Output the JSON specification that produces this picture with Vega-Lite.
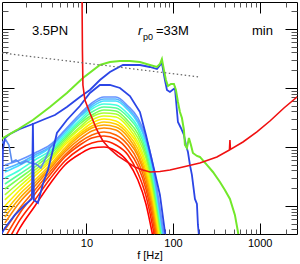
{
"$schema":"https://vega.github.io/schema/vega-lite/v6.json",
"width":295,"height":232,
"autosize":{"type":"none"},
"padding":{"left":2,"top":2,"right":3,"bottom":30},
"config":{"view":{"stroke":"#000","strokeWidth":1},"font":"Liberation Sans"},
"datasets":{
"rainbow":[
{"k":0,"f":1.145,"h":0.132},{"k":0,"f":1.707,"h":0.424},{"k":0,"f":2.543,"h":1.001},{"k":0,"f":3.789,"h":2.36},{"k":0,"f":5.645,"h":4.96},{"k":0,"f":8.41,"h":7.61},{"k":0,"f":11.57,"h":9.63},{"k":0,"f":15.93,"h":10.01},{"k":0,"f":21.9,"h":8.56},{"k":0,"f":30.15,"h":5.58},{"k":0,"f":39.3,"h":2.76},{"k":0,"f":48.7,"h":1.083},{"k":0,"f":57.1,"h":0.363},{"k":0,"f":66.9,"h":0.1},{"k":0,"f":78.5,"h":0.0255},
{"k":1,"f":1.145,"h":0.2026},{"k":1,"f":1.707,"h":0.58},{"k":1,"f":2.543,"h":1.266},{"k":1,"f":3.789,"h":2.87},{"k":1,"f":5.645,"h":5.8},{"k":1,"f":8.41,"h":9.26},{"k":1,"f":11.57,"h":11.7},{"k":1,"f":15.93,"h":12.65},{"k":1,"f":21.9,"h":10.82},{"k":1,"f":30.15,"h":7.33},{"k":1,"f":39.3,"h":3.63},{"k":1,"f":48.7,"h":1.481},{"k":1,"f":57.1,"h":0.516},{"k":1,"f":66.9,"h":0.137},{"k":1,"f":78.5,"h":0.035},
{"k":2,"f":1.145,"h":0.287},{"k":2,"f":1.707,"h":0.762},{"k":2,"f":2.543,"h":1.6},{"k":2,"f":3.789,"h":3.36},{"k":2,"f":5.645,"h":6.78},{"k":2,"f":8.41,"h":10.82},{"k":2,"f":11.57,"h":14.21},{"k":2,"f":15.93,"h":15.37},{"k":2,"f":21.9,"h":13.67},{"k":2,"f":30.15,"h":8.9},{"k":2,"f":39.3,"h":4.77},{"k":2,"f":48.7,"h":1.94},{"k":2,"f":57.1,"h":0.678},{"k":2,"f":66.9,"h":0.18},{"k":2,"f":78.5,"h":0.044},
{"k":3,"f":1.145,"h":0.393},{"k":3,"f":1.707,"h":0.926},{"k":3,"f":2.543,"h":1.87},{"k":3,"f":3.789,"h":3.77},{"k":3,"f":5.645,"h":7.33},{"k":3,"f":8.41,"h":12.16},{"k":3,"f":11.57,"h":15.98},{"k":3,"f":15.93,"h":17.97},{"k":3,"f":21.9,"h":15.98},{"k":3,"f":30.15,"h":10.82},{"k":3,"f":39.3,"h":5.8},{"k":3,"f":48.7,"h":2.36},{"k":3,"f":57.1,"h":0.857},{"k":3,"f":66.9,"h":0.2275},{"k":3,"f":78.5,"h":0.0536},
{"k":4,"f":1.145,"h":0.516},{"k":4,"f":1.707,"h":1.171},{"k":4,"f":2.543,"h":2.18},{"k":4,"f":3.789,"h":4.24},{"k":4,"f":5.645,"h":8.23},{"k":4,"f":8.41,"h":13.67},{"k":4,"f":11.57,"h":18.69},{"k":4,"f":15.93,"h":21},{"k":4,"f":21.9,"h":19.43},{"k":4,"f":30.15,"h":12.65},{"k":4,"f":39.3,"h":7.05},{"k":4,"f":48.7,"h":2.87},{"k":4,"f":57.1,"h":1.041},{"k":4,"f":66.9,"h":0.287},{"k":4,"f":78.5,"h":0.0677},
{"k":5,"f":1.145,"h":0.652},{"k":5,"f":1.707,"h":1.37},{"k":5,"f":2.543,"h":2.455},{"k":5,"f":3.789,"h":4.59},{"k":5,"f":5.645,"h":8.9},{"k":5,"f":8.41,"h":15.37},{"k":5,"f":11.57,"h":21},{"k":5,"f":15.93,"h":23.61},{"k":5,"f":21.9,"h":21.84},{"k":5,"f":30.15,"h":14.78},{"k":5,"f":39.3,"h":7.92},{"k":5,"f":48.7,"h":3.36},{"k":5,"f":57.1,"h":1.266},{"k":5,"f":66.9,"h":0.336},{"k":5,"f":78.5,"h":0.079},
{"k":6,"f":1.145,"h":0.793},{"k":6,"f":1.707,"h":1.6},{"k":6,"f":2.543,"h":2.76},{"k":6,"f":3.789,"h":4.96},{"k":6,"f":5.645,"h":9.63},{"k":6,"f":8.41,"h":16.62},{"k":6,"f":11.57,"h":22.71},{"k":6,"f":15.93,"h":26.54},{"k":6,"f":21.9,"h":24.54},{"k":6,"f":30.15,"h":16.62},{"k":6,"f":39.3,"h":9.26},{"k":6,"f":48.7,"h":3.92},{"k":6,"f":57.1,"h":1.481},{"k":6,"f":66.9,"h":0.393},{"k":6,"f":78.5,"h":0.089},
{"k":7,"f":1.145,"h":1.001},{"k":7,"f":1.707,"h":1.87},{"k":7,"f":2.543,"h":3.23},{"k":7,"f":3.789,"h":5.58},{"k":7,"f":5.645,"h":10.82},{"k":7,"f":8.41,"h":17.97},{"k":7,"f":11.57,"h":25.52},{"k":7,"f":15.93,"h":29.83},{"k":7,"f":21.9,"h":27.59},{"k":7,"f":30.15,"h":18.69},{"k":7,"f":39.3,"h":10.82},{"k":7,"f":48.7,"h":4.59},{"k":7,"f":57.1,"h":1.73},{"k":7,"f":66.9,"h":0.459},{"k":7,"f":78.5,"h":0.104},
{"k":8,"f":1.145,"h":1.266},{"k":8,"f":1.707,"h":2.18},{"k":8,"f":2.543,"h":3.63},{"k":8,"f":3.789,"h":6.03},{"k":8,"f":5.645,"h":11.7},{"k":8,"f":8.41,"h":20.2},{"k":8,"f":11.57,"h":28.69},{"k":8,"f":15.93,"h":33.53},{"k":8,"f":21.9,"h":32.25},{"k":8,"f":30.15,"h":21.84},{"k":8,"f":39.3,"h":12.16},{"k":8,"f":48.7,"h":5.36},{"k":8,"f":57.1,"h":2.1},{"k":8,"f":66.9,"h":0.536},{"k":8,"f":78.5,"h":0.122},
{"k":9,"f":1.145,"h":1.54},{"k":9,"f":1.707,"h":2.55},{"k":9,"f":2.543,"h":4.08},{"k":9,"f":3.789,"h":6.52},{"k":9,"f":5.645,"h":12.65},{"k":9,"f":8.41,"h":21.84},{"k":9,"f":11.57,"h":32.25},{"k":9,"f":15.93,"h":37.7},{"k":9,"f":21.9,"h":36.25},{"k":9,"f":30.15,"h":24.54},{"k":9,"f":39.3,"h":14.21},{"k":9,"f":48.7,"h":6.52},{"k":9,"f":57.1,"h":2.455},{"k":9,"f":66.9,"h":0.652},{"k":9,"f":78.5,"h":0.142},
{"k":10,"f":1.145,"h":1.94},{"k":10,"f":1.707,"h":2.99},{"k":10,"f":2.543,"h":4.59},{"k":10,"f":3.789,"h":7.33},{"k":10,"f":5.645,"h":13.67},{"k":10,"f":8.41,"h":24.54},{"k":10,"f":11.57,"h":34.87},{"k":10,"f":15.93,"h":42.38},{"k":10,"f":21.9,"h":40.76},{"k":10,"f":30.15,"h":27.59},{"k":10,"f":39.3,"h":16.62},{"k":10,"f":48.7,"h":7.61},{"k":10,"f":57.1,"h":2.87},{"k":10,"f":66.9,"h":0.762},{"k":10,"f":78.5,"h":0.1665},
{"k":11,"f":1.145,"h":2.36},{"k":11,"f":1.707,"h":3.49},{"k":11,"f":2.543,"h":5.16},{"k":11,"f":3.789,"h":7.92},{"k":11,"f":5.645,"h":14.78},{"k":11,"f":8.41,"h":26.54},{"k":11,"f":11.57,"h":39.2},{"k":11,"f":15.93,"h":47.64},{"k":11,"f":21.9,"h":45.82},{"k":11,"f":30.15,"h":32.25},{"k":11,"f":39.3,"h":19.43},{"k":11,"f":48.7,"h":8.9},{"k":11,"f":57.1,"h":3.49},{"k":11,"f":66.9,"h":0.891},{"k":11,"f":78.5,"h":0.195},
{"k":12,"f":1.145,"h":2.99},{"k":12,"f":1.707,"h":4.08},{"k":12,"f":2.543,"h":6.03},{"k":12,"f":3.789,"h":8.56},{"k":12,"f":5.645,"h":15.98},{"k":12,"f":8.41,"h":28.69},{"k":12,"f":11.57,"h":44.06},{"k":12,"f":15.93,"h":53.55},{"k":12,"f":21.9,"h":51.51},{"k":12,"f":30.15,"h":36.25},{"k":12,"f":39.3,"h":21.84},{"k":12,"f":48.7,"h":10.41},{"k":12,"f":57.1,"h":4.08},{"k":12,"f":66.9,"h":1.041},{"k":12,"f":78.5,"h":0.2275},
{"k":13,"f":1.145,"h":3.77},{"k":13,"f":1.707,"h":4.96},{"k":13,"f":2.543,"h":6.78},{"k":13,"f":3.789,"h":9.63},{"k":13,"f":5.645,"h":17.28},{"k":13,"f":8.41,"h":32.25},{"k":13,"f":11.57,"h":47.64},{"k":13,"f":15.93,"h":60.2},{"k":13,"f":21.9,"h":60.2},{"k":13,"f":30.15,"h":42.38},{"k":13,"f":39.3,"h":25.52},{"k":13,"f":48.7,"h":12.16},{"k":13,"f":57.1,"h":4.77},{"k":13,"f":66.9,"h":1.218},{"k":13,"f":78.5,"h":0.266},
{"k":14,"f":1.145,"h":4.24},{"k":14,"f":1.707,"h":5.36},{"k":14,"f":2.543,"h":7.33},{"k":14,"f":3.789,"h":10.01},{"k":14,"f":5.645,"h":18.69},{"k":14,"f":8.41,"h":33.53},{"k":14,"f":11.57,"h":51.51},{"k":14,"f":15.93,"h":65.07},{"k":14,"f":21.9,"h":65.07},{"k":14,"f":30.15,"h":45.82},{"k":14,"f":39.3,"h":27.59},{"k":14,"f":48.7,"h":13.15},{"k":14,"f":57.1,"h":5.36},{"k":14,"f":66.9,"h":1.37},{"k":14,"f":78.5,"h":0.287},
{"k":15,"f":1.145,"h":4.96},{"k":15,"f":1.707,"h":6.03},{"k":15,"f":2.543,"h":7.92},{"k":15,"f":3.789,"h":10.82},{"k":15,"f":5.645,"h":19.43},{"k":15,"f":8.41,"h":36.25},{"k":15,"f":11.57,"h":55.68},{"k":15,"f":15.93,"h":70.36},{"k":15,"f":21.9,"h":70.36},{"k":15,"f":30.15,"h":49.54},{"k":15,"f":39.3,"h":31.02},{"k":15,"f":48.7,"h":14.78},{"k":15,"f":57.1,"h":6.03},{"k":15,"f":66.9,"h":1.54},{"k":15,"f":78.5,"h":0.323}
],
"lb":[
{"f":0.951,"h":15.98},{"f":1.086,"h":11.7},{"f":1.176,"h":13.15},{"f":1.274,"h":10.82},{"f":1.38,"h":5.58},{"f":1.535,"h":6.03},{"f":1.752,"h":5.16},{"f":2.001,"h":5.8},{"f":2.286,"h":5.36},{"f":2.611,"h":5.16},{"f":2.983,"h":4.41},{"f":3.318,"h":6.03},{"f":3.79,"h":9.63},{"f":4.444,"h":13.15}
],
"b2":[
{"f":0.951,"h":0.266},{"f":1.145,"h":0.424},{"f":1.494,"h":0.705},{"f":1.949,"h":1.041},{"f":2.348,"h":1.317},{"f":2.41,"h":25.52},{"f":2.476,"h":1.266},{"f":2.754,"h":1.126},{"f":3.145,"h":2.36},{"f":3.593,"h":4.08},{"f":4.104,"h":8.9},{"f":4.564,"h":17.28},{"f":5.95,"h":28.69},{"f":8.41,"h":49.54},{"f":10.97,"h":82.25},{"f":14.32,"h":112.4},{"f":18.68,"h":112.4},{"f":24.4,"h":100},{"f":31.8,"h":73.16},{"f":41.5,"h":39.2},{"f":48.7,"h":15.98},{"f":54.1,"h":8.23},{"f":61.8,"h":3.63},{"f":70.6,"h":1.54},{"f":80.6,"h":0.363},{"f":85.05,"h":0.219}
],
"b1":[
{"f":1.03,"h":0.266},{"f":1.086,"h":8.9},{"f":1.145,"h":14.21},{"f":1.308,"h":16.62},{"f":1.707,"h":20.2},{"f":2.41,"h":24.54},{"f":3.318,"h":29.83},{"f":4.33,"h":34.87},{"f":5.95,"h":47.64},{"f":8.41,"h":70.36},{"f":10.97,"h":92.5},{"f":14.32,"h":136.6},{"f":18.68,"h":186.8},{"f":26.4,"h":245.3},{"f":41.5,"h":245.3},{"f":54.1,"h":227},{"f":65.2,"h":210},{"f":74.4,"h":265.3},{"f":80.6,"h":136.6},{"f":85.05,"h":92.5},{"f":92.1,"h":85.55},{"f":105.2,"h":100},{"f":113.9,"h":26.54},{"f":123.4,"h":21},{"f":133.6,"h":15.98},{"f":140.9,"h":10.82},{"f":148.6,"h":8.23},{"f":156.7,"h":4.96},{"f":165.2,"h":3.36},{"f":179,"h":1.317},{"f":188.8,"h":1.083},{"f":193.9,"h":0.477},{"f":204,"h":0.219}
],
"green":[
{"f":0.951,"h":12.65},{"f":1.576,"h":19.43},{"f":2.41,"h":28.69},{"f":3.79,"h":47.64},{"f":5.95,"h":82.25},{"f":9.11,"h":147.7},{"f":14.32,"h":245.3},{"f":18.68,"h":275.9},{"f":24.4,"h":286.9},{"f":31.8,"h":286.9},{"f":41.5,"h":275.9},{"f":54.1,"h":245.3},{"f":65.2,"h":227},{"f":70.6,"h":255},{"f":74.4,"h":310},{"f":78.5,"h":202},{"f":82.8,"h":136.6},{"f":87.4,"h":108.1},{"f":94.6,"h":116.9},{"f":102.4,"h":116.9},{"f":108,"h":92.5},{"f":113.9,"h":57.9},{"f":120.2,"h":39.2},{"f":126.7,"h":31.02},{"f":133.6,"h":19.43},{"f":137.2,"h":10.82},{"f":144.7,"h":9.63},{"f":152.6,"h":14.21},{"f":161,"h":10.82},{"f":169.7,"h":7.92},{"f":188.8,"h":7.05},{"f":204,"h":6.78},{"f":246,"h":4.96},{"f":289,"h":3.77},{"f":348,"h":2.55},{"f":397,"h":1.87},{"f":454,"h":1.317},{"f":518,"h":0.705},{"f":562,"h":0.363},{"f":592,"h":0.219}
],
"noise":[
{"f":8.87,"h":6770},{"f":8.99,"h":441},{"f":9.11,"h":112.4},{"f":9.61,"h":62.6},{"f":10.97,"h":37.7},{"f":13.22,"h":19.43},{"f":15.5,"h":12.65},{"f":18.68,"h":9.26},{"f":23.1,"h":7.05},{"f":29.4,"h":5.58},{"f":36.3,"h":4.59},{"f":44.9,"h":4.08},{"f":54.1,"h":3.77},{"f":70.6,"h":3.85},{"f":92.1,"h":4.08},{"f":130.1,"h":4.59},{"f":204,"h":5.36},{"f":321,"h":6.78},{"f":448,"h":8.9},{"f":454,"h":13.15},{"f":460,"h":9.08},{"f":642,"h":12.16},{"f":930,"h":17.97},{"f":1315,"h":27.59},{"f":1908,"h":45.82},{"f":2697,"h":70.36},{"f":3336,"h":92.5}
],
"dots":[{"f":1.06,"h":392},{"f":204,"h":153.6}]
},
"encoding":{
"x":{"field":"f","type":"quantitative","scale":{"type":"log","domain":[1.06,2700],"nice":false,"zero":false},"axis":null},
"y":{"field":"h","type":"quantitative","scale":{"type":"log","domain":[0.335,2870],"nice":false,"zero":false},"axis":null}
},
"layer":[
{"data":{"name":"rainbow"},"mark":{"type":"line","clip":true,"strokeWidth":1.6,"interpolate":"monotone"},
"encoding":{
"x":{"field":"f","type":"quantitative","scale":{"type":"log","domain":[1.06,2700],"nice":false,"zero":false},
"axis":{"orient":"bottom","values":[2,3,4,5,6,7,8,9,10,20,30,40,50,60,70,80,90,100,200,300,400,500,600,700,800,900,1000,2000],
"labelExpr":"datum.value==10||datum.value==100||datum.value==1000 ? format(datum.value,'d') : ''",
"tickSize":{"condition":{"test":"datum.value==10||datum.value==100||datum.value==1000","value":-11},"value":-5},
"tickColor":{"condition":{"test":"datum.value==10||datum.value==100||datum.value==1000","value":"#000"},"value":"#555"},
"tickWidth":1,"domain":false,"grid":false,"labelFontSize":11,"labelColor":"#000","labelPadding":14,"labelFlush":false,"labelOverlap":false,
"title":"f [Hz]","titleFontSize":11,"titleFontWeight":"normal","titleColor":"#000","titlePadding":-5}},
"y":{"field":"h","type":"quantitative","scale":{"type":"log","domain":[0.335,2870],"nice":false,"zero":false},
"axis":{"orient":"left","values":[0.4,0.5,0.6,0.7,0.8,0.9,1,2,3,4,5,6,7,8,9,10,20,30,40,50,60,70,80,90,100,200,300,400,500,600,700,800,900,1000,2000],
"labels":false,"title":null,"domain":false,"grid":false,"tickWidth":1,
"tickColor":{"condition":{"test":"datum.value==1||datum.value==10||datum.value==100||datum.value==1000","value":"#000"},"value":"#555"},
"tickSize":{"condition":{"test":"datum.value==1||datum.value==10||datum.value==100||datum.value==1000","value":-12},"value":-6}}},
"color":{"field":"k","type":"nominal","legend":null,"scale":{"domain":[0,1,2,3,4,5,6,7,8,9,10,11,12,13,14,15],
"range":["#ff0000","#ff2200","#ff4400","#ff6600","#ff8800","#ffaa00","#ffcc00","#ffee00","#ddff11","#aaff33","#77ff55","#55ff99","#44ffdd","#44ddff","#55b4ff","#6694ff"]}}
}},
{"data":{"name":"lb"},"mark":{"type":"line","clip":true,"strokeWidth":1.6,"color":"#5a8cf0"}},
{"data":{"name":"b2"},"mark":{"type":"line","clip":true,"strokeWidth":1.8,"color":"#2b45e6"}},
{"data":{"name":"b1"},"mark":{"type":"line","clip":true,"strokeWidth":1.8,"color":"#2b45e6"}},
{"data":{"name":"green"},"mark":{"type":"line","clip":true,"strokeWidth":2,"color":"#72e82a"}},
{"data":{"name":"noise"},"mark":{"type":"line","clip":true,"strokeWidth":1.6,"color":"#f01010"}},
{"data":{"name":"dots"},"mark":{"type":"line","clip":true,"strokeWidth":1.2,"color":"#666","strokeDash":[1.5,2.5]},
"encoding":{
"x":{"field":"f","type":"quantitative","scale":{"type":"log","domain":[1.06,2700],"nice":false,"zero":false},
"axis":{"orient":"top","values":[2,3,4,5,6,7,8,9,10,20,30,40,50,60,70,80,90,100,200,300,400,500,600,700,800,900,1000,2000],
"labels":false,"title":null,"domain":false,"grid":false,"tickWidth":1,
"tickColor":{"condition":{"test":"datum.value==10||datum.value==100||datum.value==1000","value":"#000"},"value":"#555"},
"tickSize":{"condition":{"test":"datum.value==10||datum.value==100||datum.value==1000","value":-11},"value":-5}}},
"y":{"field":"h","type":"quantitative","scale":{"type":"log","domain":[0.335,2870],"nice":false,"zero":false},
"axis":{"orient":"right","values":[0.4,0.5,0.6,0.7,0.8,0.9,1,2,3,4,5,6,7,8,9,10,20,30,40,50,60,70,80,90,100,200,300,400,500,600,700,800,900,1000,2000],
"labels":false,"title":null,"domain":false,"grid":false,"tickWidth":1,
"tickColor":{"condition":{"test":"datum.value==1||datum.value==10||datum.value==100||datum.value==1000","value":"#000"},"value":"#555"},
"tickSize":{"condition":{"test":"datum.value==1||datum.value==10||datum.value==100||datum.value==1000","value":-12},"value":-6}}}
}},
{"data":{"values":[{"f":2.348,"h":791,"t":"3.5PN"},{"f":815,"h":791,"t":"min"},{"f":63.5,"h":791,"t":"=33M"}]},
"mark":{"type":"text","align":"left","baseline":"alphabetic","fontSize":13,"color":"#000"},"encoding":{"text":{"field":"t"}}},
{"data":{"values":[{"f":39.3,"h":791,"t":"r"}]},
"mark":{"type":"text","align":"left","baseline":"alphabetic","fontSize":13,"fontStyle":"italic","color":"#000"},"encoding":{"text":{"field":"t"}}},
{"data":{"values":[{"f":44.9,"h":651,"t":"p0"}]},
"mark":{"type":"text","align":"left","baseline":"alphabetic","fontSize":9,"color":"#000"},"encoding":{"text":{"field":"t"}}}
],
"resolve":{"axis":{"x":"independent","y":"independent"}}
}
